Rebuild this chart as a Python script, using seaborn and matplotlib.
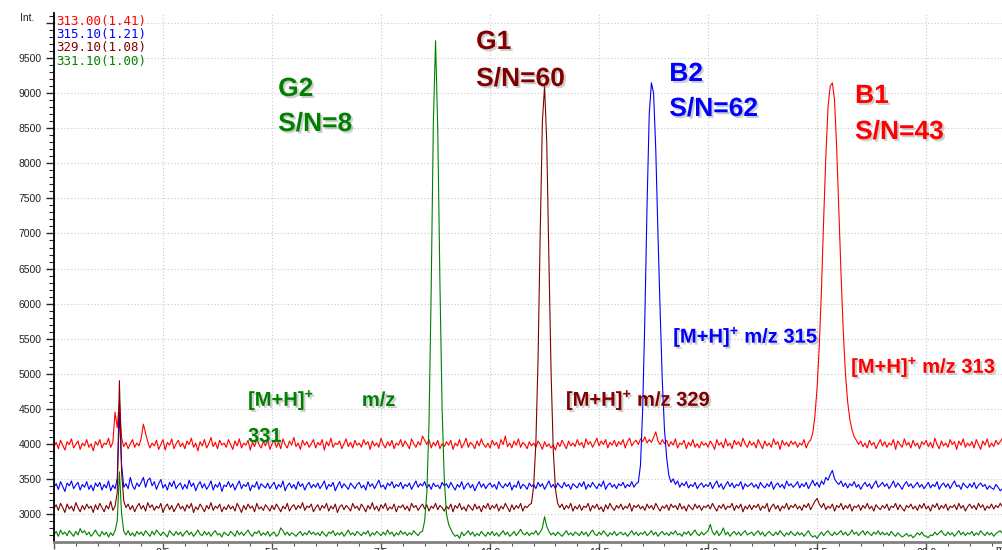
import matplotlib
matplotlib.use("Agg")
import matplotlib.pyplot as plt
import matplotlib.patheffects as pe
from matplotlib.ticker import MultipleLocator
import seaborn as sns
import pandas as pd
import numpy as np

# scan interval (min)
step = 0.05

traces = ["313.00(1.41)", "315.10(1.21)", "329.10(1.08)", "331.10(1.00)"]
colors = ["#ff0000", "#0000ff", "#800000", "#008000"]

# intensities, one row per minute
i313 = [
    3960, 4020, 3930, 4050, 3980, 3910, 4030, 3990, 4070, 3940, 3990, 4040, 3920, 4010, 3970, 4060, 3950, 4000, 3900, 4030,
    3980, 4060, 3940, 4010, 3990, 4080, 3950, 4020, 4450, 4230, 4620, 4080, 3960, 4020, 3930, 4000, 4060, 3950, 4010, 3970,
    4080, 4280, 4150, 4030, 3940, 4010, 3970, 4050, 3920, 3990, 4060, 3910, 4020, 3980, 4070, 3930, 4000, 4050, 3960, 4010,
    3930, 4040, 3990, 4080, 3950, 4010, 3900, 4030, 3970, 4060, 3940, 4000, 4090, 3960, 4020, 3930, 4050, 3980, 4010, 3950,
    4060, 3990, 3920, 4040, 3970, 4070, 3940, 4010, 3980, 4050, 3910, 4020, 3960, 4080, 3990, 3940, 4030, 3970, 4060, 3920,
    4000, 4050, 3950, 4020, 3930, 4070, 3990, 3940, 4040, 3980, 4090, 3960, 4010, 3920, 4050, 3980, 4030, 3950, 4000, 4060,
    3940, 4020, 3980, 4060, 3910, 4030, 3970, 4080, 3950, 4010, 3990, 4040, 3930, 4000, 4070, 3960, 4020, 3940, 4050, 3980,
    4010, 3950, 4060, 3990, 4030, 3920, 4040, 3970, 4010, 3950, 4080, 3990, 3940, 4030, 3970, 4050, 3930, 4010, 3980, 4060,
    3960, 4040, 3990, 3930, 4070, 4000, 3950, 4030, 3980, 4110, 4050, 3990, 4060, 3940, 4020, 3970, 4050, 3930, 4000, 3960,
    4030, 3980, 4050, 3920, 4010, 3970, 4060, 3940, 4000, 4080, 3950, 4020, 3990, 3930, 4040, 3970, 4070, 3990, 3950, 4010,
    3940, 4050, 3980, 4020, 3930, 4060, 3990, 4110, 3960, 4010, 3940, 4040, 3980, 4070, 3950, 4020, 3990, 3930, 4030, 3970,
    4010, 3950, 4040, 3990, 3920, 4030, 3960, 4000, 3940, 3980, 3910, 4020, 3960, 4050, 3990, 3930, 4040, 3970, 4010, 3960,
    4060, 3980, 4020, 3940, 4070, 3990, 4030, 3950, 4010, 4080, 3970, 4040, 3990, 4060, 3940, 4020, 3980, 4050, 3960, 4030,
    3990, 4060, 3940, 4030, 4080, 3970, 4020, 4050, 3990, 4070, 4030, 4100, 4010, 4060, 4020, 4090, 4170, 4040, 3990, 4060,
    4000, 4050, 3960, 4030, 3980, 4070, 3940, 4010, 3990, 4050, 3930, 4020, 3970, 4060, 3950, 4000, 3940, 4030, 3980, 4010,
    3950, 4040, 3990, 3920, 4060, 3980, 4020, 3940, 4070, 3970, 4010, 3930, 4050, 3990, 4030, 3960, 4080, 4000, 3950, 4040,
    3980, 4020, 3940, 4060, 3990, 3930, 4040, 3970, 4010, 3950, 4070, 3990, 4030, 3920, 4050, 3980, 4020, 3960, 4040, 3990,
    4030, 3950, 4010, 3980, 4060, 3940, 4020, 4050, 4150, 4400, 4800, 5400, 6200, 7200, 8100, 8800, 9100, 9150, 8900, 8200,
    7300, 6400, 5600, 5000, 4600, 4350, 4200, 4100, 4050, 3990, 4040, 3960, 4010, 3940, 4050, 3980, 4020, 3930, 4000, 4060,
    3970, 4030, 3950, 4010, 3980, 4060, 3920, 4040, 3990, 3950, 4070, 3980, 4020, 3940, 4050, 3970, 4010, 3930, 4030, 3990,
    4050, 3960, 4020, 3940, 4080, 3990, 3930, 4040, 3970, 4010, 3950, 4060, 3990, 4030, 3920, 4040, 3980, 4070, 3950, 4010,
    3970, 4030, 3940, 4060, 3990, 3920, 4040, 3980, 4070, 3950, 4010, 3960, 4050, 3990, 4030, 4080,
]
i315 = [
    3380, 3430, 3350, 3460, 3390, 3320, 3440, 3400, 3470, 3360, 3410, 3450, 3340, 3420, 3380, 3460, 3350, 3410, 3330, 3440,
    3390, 3450, 3340, 3420, 3370, 3470, 3330, 3410, 3360, 3500, 4450, 3700, 3380, 3430, 3360, 3520, 3400, 3350, 3440, 3390,
    3450, 3520, 3380, 3480, 3510, 3400, 3460, 3350, 3430, 3490, 3370, 3420, 3340, 3450, 3390, 3470, 3360, 3410, 3440, 3350,
    3420, 3360, 3480, 3390, 3440, 3330, 3410, 3460, 3370, 3430, 3350, 3400, 3470, 3340, 3420, 3380, 3450, 3320, 3410, 3390,
    3460, 3380, 3430, 3340, 3410, 3470, 3360, 3420, 3390, 3450, 3330, 3410, 3380, 3460, 3350, 3430, 3400, 3370, 3440, 3360,
    3410, 3450, 3350, 3420, 3380, 3470, 3330, 3400, 3440, 3370, 3420, 3350, 3460, 3390, 3430, 3340, 3410, 3450, 3370, 3420,
    3380, 3440, 3360, 3410, 3470, 3350, 3420, 3390, 3450, 3330, 3400, 3460, 3370, 3430, 3390, 3350, 3440, 3400, 3360, 3420,
    3450, 3370, 3410, 3340, 3460, 3390, 3430, 3360, 3420, 3480, 3380, 3410, 3350, 3440, 3400, 3460, 3370, 3420, 3390, 3450,
    3360, 3420, 3390, 3440, 3350, 3410, 3470, 3380, 3430, 3400, 3460, 3370, 3420, 3350, 3440, 3390, 3410, 3360, 3450, 3400,
    3430, 3370, 3450, 3390, 3340, 3420, 3380, 3460, 3350, 3410, 3440, 3370, 3420, 3330, 3400, 3460, 3380, 3430, 3360, 3410,
    3440, 3380, 3420, 3350, 3460, 3400, 3370, 3430, 3390, 3450, 3340, 3410, 3380, 3470, 3360, 3420, 3400, 3350, 3440, 3390,
    3420, 3360, 3450, 3390, 3430, 3350, 3410, 3470, 3380, 3420, 3360, 3440, 3400, 3370, 3450, 3390, 3420, 3350, 3430, 3400,
    3370, 3440, 3390, 3460, 3350, 3420, 3380, 3450, 3400, 3360, 3430, 3390, 3470, 3350, 3410, 3440, 3380, 3420, 3360, 3430,
    3400, 3450, 3370, 3420, 3390, 3460, 3380, 3430, 3450, 3700, 4500, 5800, 7400, 8700, 9150, 9000, 8200, 7000, 5900, 4900,
    4200, 3800, 3550, 3450, 3500, 3420, 3470, 3380, 3440, 3400, 3460, 3370, 3420, 3390, 3450, 3360, 3410, 3440, 3380, 3420,
    3390, 3450, 3360, 3420, 3470, 3380, 3430, 3350, 3410, 3460, 3390, 3440, 3370, 3420, 3400, 3460, 3350, 3430, 3390, 3410,
    3440, 3380, 3420, 3360, 3450, 3400, 3370, 3430, 3390, 3460, 3350, 3410, 3440, 3380, 3420, 3360, 3470, 3400, 3430, 3380,
    3410, 3460, 3370, 3430, 3390, 3450, 3360, 3420, 3480, 3400, 3450, 3380, 3470, 3420, 3520, 3480, 3560, 3620, 3500, 3450,
    3420, 3470, 3390, 3440, 3370, 3430, 3400, 3460, 3380, 3420, 3350, 3410, 3450, 3390, 3430, 3360, 3420, 3470, 3380, 3410,
    3450, 3390, 3430, 3360, 3410, 3470, 3380, 3440, 3400, 3350, 3420, 3460, 3390, 3430, 3370, 3410, 3450, 3380, 3420, 3360,
    3400, 3450, 3370, 3420, 3390, 3460, 3350, 3410, 3440, 3380, 3430, 3360, 3420, 3470, 3390, 3410, 3350, 3440, 3400, 3370,
    3430, 3380, 3450, 3360, 3410, 3440, 3390, 3420, 3350, 3400, 3370, 3350, 3420, 3380, 3330, 3360,
]
i329 = [
    3080, 3130, 3050, 3150, 3090, 3020, 3140, 3070, 3110, 3040, 3160, 3090, 3030, 3120, 3060, 3140, 3080, 3110, 3020, 3130,
    3060, 3150, 3090, 3030, 3120, 3070, 3180, 3050, 3110, 3300, 4900, 3600, 3180, 3090, 3140, 3060, 3120, 3030, 3100, 3150,
    3070, 3120, 3040, 3160, 3090, 3130, 3050, 3110, 3080, 3150, 3020, 3100, 3140, 3060, 3120, 3030, 3090, 3150, 3070, 3110,
    3040, 3130, 3080, 3150, 3020, 3100, 3060, 3140, 3090, 3030, 3120, 3070, 3160, 3050, 3110, 3080, 3140, 3030, 3100, 3060,
    3130, 3070, 3110, 3040, 3150, 3090, 3020, 3120, 3060, 3140, 3080, 3110, 3030, 3150, 3070, 3100, 3050, 3130, 3090, 3040,
    3120, 3060, 3140, 3090, 3030, 3110, 3070, 3150, 3040, 3100, 3130, 3060, 3120, 3080, 3160, 3050, 3110, 3090, 3140, 3030,
    3090, 3130, 3050, 3120, 3080, 3150, 3040, 3110, 3070, 3140, 3020, 3100, 3130, 3060, 3120, 3090, 3040, 3150, 3080, 3110,
    3050, 3140, 3090, 3030, 3120, 3070, 3160, 3060, 3110, 3040, 3130, 3080, 3150, 3050, 3100, 3070, 3140, 3030, 3110, 3090,
    3130, 3060, 3110, 3040, 3150, 3090, 3120, 3050, 3100, 3140, 3070, 3130, 3040, 3110, 3080, 3150, 3060, 3120, 3090, 3040,
    3110, 3070, 3140, 3030, 3120, 3080, 3150, 3060, 3100, 3040, 3130, 3090, 3050, 3140, 3070, 3110, 3030, 3120, 3080, 3150,
    3060, 3120, 3080, 3140, 3040, 3110, 3070, 3150, 3090, 3030, 3130, 3060, 3120, 3080, 3150, 3040, 3110, 3090, 3130, 3150,
    3400, 4000, 5200, 7000, 8600, 9100, 8300, 6600, 5000, 3900, 3350, 3150, 3090, 3140, 3060, 3120, 3080, 3150, 3040, 3110,
    3070, 3130, 3050, 3110, 3090, 3150, 3040, 3120, 3080, 3140, 3060, 3100, 3030, 3130, 3070, 3150, 3090, 3050, 3120, 3080,
    3140, 3060, 3110, 3080, 3150, 3040, 3120, 3090, 3130, 3070, 3110, 3050, 3140, 3080, 3120, 3060, 3150, 3090, 3040, 3110,
    3080, 3130, 3050, 3140, 3090, 3120, 3060, 3150, 3070, 3110, 3040, 3130, 3090, 3060, 3140, 3080, 3120, 3050, 3110, 3090,
    3130, 3070, 3150, 3090, 3040, 3120, 3080, 3140, 3060, 3110, 3090, 3150, 3050, 3120, 3080, 3140, 3030, 3110, 3070, 3130,
    3060, 3120, 3090, 3140, 3050, 3110, 3080, 3150, 3030, 3100, 3140, 3070, 3120, 3040, 3110, 3080, 3150, 3060, 3120, 3090,
    3140, 3070, 3110, 3050, 3130, 3090, 3150, 3060, 3120, 3180, 3220, 3140, 3090, 3150, 3060, 3110, 3080, 3140, 3040, 3120,
    3090, 3150, 3060, 3120, 3080, 3140, 3040, 3110, 3090, 3130, 3050, 3120, 3080, 3150, 3070, 3110, 3040, 3130, 3090, 3060,
    3120, 3080, 3140, 3050, 3110, 3090, 3150, 3060, 3130, 3080, 3040, 3120, 3090, 3140, 3070, 3110, 3050, 3130, 3080, 3150,
    3070, 3110, 3040, 3130, 3090, 3150, 3060, 3120, 3080, 3140, 3050, 3110, 3090, 3130, 3060, 3150, 3080, 3120, 3040, 3100,
    3140, 3080, 3120, 3060, 3150, 3090, 3130, 3050, 3110, 3080, 3140, 3070, 3120, 3090, 3150, 3100,
]
i331 = [
    2700, 2750, 2680, 2770, 2710, 2740, 2690, 2760, 2720, 2680, 2750, 2700, 2790, 2730, 2760, 2700, 2740, 2680, 2720, 2770,
    2710, 2680, 2750, 2700, 2740, 2670, 2730, 2690, 2760, 2900, 3600, 3000, 2750, 2700, 2760, 2690, 2730, 2680, 2750, 2710,
    2740, 2690, 2760, 2720, 2680, 2750, 2700, 2770, 2730, 2690, 2740, 2710, 2670, 2760, 2720, 2690, 2750, 2700, 2740, 2680,
    2730, 2760, 2700, 2740, 2680, 2720, 2770, 2710, 2690, 2750, 2700, 2740, 2680, 2730, 2760, 2700, 2720, 2670, 2740, 2710,
    2690, 2750, 2720, 2680, 2760, 2700, 2740, 2690, 2730, 2770, 2710, 2680, 2740, 2720, 2760, 2690, 2730, 2700, 2750, 2680,
    2720, 2740, 2680, 2710, 2800, 2760, 2700, 2740, 2690, 2730, 2710, 2680, 2720, 2750, 2690, 2730, 2700, 2760, 2710, 2740,
    2700, 2730, 2690, 2750, 2710, 2680, 2740, 2720, 2760, 2690, 2730, 2700, 2740, 2680, 2720, 2770, 2700, 2730, 2690, 2750,
    2720, 2690, 2740, 2710, 2760, 2680, 2730, 2700, 2750, 2720, 2690, 2740, 2700, 2770, 2710, 2740, 2680, 2730, 2700, 2760,
    2710, 2740, 2690, 2730, 2700, 2760, 2720, 2690, 2740, 2750, 2900, 3300, 4300, 6200, 8600, 9750, 8500, 6300, 4500, 3500,
    3000, 2850, 2780, 2720, 2680, 2700, 2650, 2740, 2690, 2720, 2760, 2700, 2740, 2680, 2720, 2690, 2750, 2710, 2680, 2740,
    2700, 2750, 2690, 2730, 2680, 2720, 2760, 2700, 2740, 2680, 2710, 2750, 2690, 2730, 2780, 2720, 2700, 2740, 2690, 2730,
    2710, 2760, 2700, 2740, 2800, 2960, 2820, 2750, 2700, 2730, 2690, 2740, 2710, 2680, 2720, 2760, 2700, 2730, 2690, 2740,
    2720, 2690, 2750, 2700, 2740, 2680, 2730, 2770, 2710, 2690, 2740, 2700, 2760, 2720, 2680, 2730, 2700, 2750, 2690, 2720,
    2740, 2700, 2730, 2680, 2720, 2760, 2700, 2740, 2690, 2730, 2710, 2750, 2690, 2720, 2760, 2700, 2740, 2680, 2720, 2750,
    2700, 2730, 2690, 2740, 2710, 2760, 2700, 2720, 2680, 2740, 2710, 2750, 2690, 2730, 2770, 2710, 2690, 2740, 2700, 2730,
    2760, 2850, 2740, 2700, 2760, 2690, 2730, 2800, 2700, 2740, 2680, 2720, 2750, 2700, 2740, 2690, 2730, 2760, 2700, 2720,
    2740, 2690, 2730, 2760, 2700, 2740, 2680, 2720, 2750, 2710, 2690, 2740, 2700, 2760, 2720, 2680, 2730, 2700, 2750, 2710,
    2690, 2740, 2700, 2730, 2680, 2720, 2760, 2700, 2670, 2690, 2650, 2700, 2740, 2690, 2730, 2760, 2710, 2690, 2740, 2700,
    2730, 2760, 2700, 2740, 2690, 2720, 2770, 2710, 2740, 2690, 2730, 2760, 2700, 2750, 2720, 2690, 2740, 2710, 2760, 2700,
    2740, 2700, 2730, 2690, 2750, 2710, 2680, 2730, 2700, 2670, 2690, 2720, 2680, 2700, 2660, 2690, 2730, 2700, 2740, 2690,
    2680, 2660, 2700, 2690, 2740, 2700, 2730, 2760, 2710, 2690, 2740, 2700, 2730, 2680, 2720, 2760, 2700, 2740, 2690, 2730,
    2710, 2750, 2690, 2730, 2700, 2760, 2720, 2690, 2740, 2700, 2730, 2680, 2720, 2740, 2760, 2720,
]

# peak labels
peak_names = ["G2", "G1", "B2", "B1"]
peak_sn = ["S/N=8", "S/N=60", "S/N=62", "S/N=43"]
peak_colors = ["#008000", "#800000", "#0000ff", "#ff0000"]

series = [i313, i315, i329, i331]
frames = []
for name, vals in zip(traces, series):
    assert len(vals) == 436, (name, len(vals))
    frames.append(pd.DataFrame({"rt": np.arange(len(vals)) * step,
                                "intensity": vals, "trace": name}))
df = pd.concat(frames, ignore_index=True)

sns.set_style("white")
plt.rcParams["font.family"] = ["Liberation Sans", "DejaVu Sans"]
plt.rcParams["mathtext.fontset"] = "custom"
plt.rcParams["mathtext.rm"] = "Liberation Sans:bold"
plt.rcParams["mathtext.bf"] = "Liberation Sans:bold"
plt.rcParams["mathtext.default"] = "rm"

W, H = 1002, 550
fig = plt.figure(figsize=(W / 100, H / 100), dpi=100)
ax = fig.add_axes([54 / W, 8.5 / H, 1 - 54 / W, (541.5 - 13.3) / H])

sns.lineplot(data=df, x="rt", y="intensity", hue="trace", hue_order=traces,
             palette=colors, estimator=None, linewidth=0.8, legend=False, ax=ax)

ax.set_xlim(0, 21.74)
ax.set_ylim(2606, 10141)
ax.set_xlabel("")
ax.set_ylabel("")

ax.xaxis.set_major_locator(MultipleLocator(2.5))
ax.xaxis.set_minor_locator(MultipleLocator(0.5))
ax.yaxis.set_major_locator(MultipleLocator(500))
ax.yaxis.set_minor_locator(MultipleLocator(100))
ax.xaxis.set_major_formatter(lambda v, p: "" if v < 1 else f"{v:.1f}")
ax.yaxis.set_major_formatter(lambda v, p: "" if v >= 10000 else f"{v:.0f}")

ax.grid(True, which="major", color="#c8c8c8", linestyle=(0, (1, 2)), linewidth=0.8)
for s in ["top", "right"]:
    ax.spines[s].set_visible(False)
ax.spines["left"].set_color("black")
ax.spines["left"].set_linewidth(1.3)
ax.spines["bottom"].set_color("#808080")
ax.spines["bottom"].set_linewidth(2)

ax.tick_params(axis="y", which="major", direction="out", length=6, width=1,
               pad=3, labelsize=7.5, labelcolor="#222222", left=True)
ax.tick_params(axis="y", which="minor", direction="out", length=3.5, width=0.8, left=True)
ax.tick_params(axis="x", which="major", direction="out", length=5, width=1,
               pad=0, labelsize=7.5, labelcolor="#222222", color="#555555", bottom=True)
ax.tick_params(axis="x", which="minor", direction="out", length=3, width=0.8,
               color="#555555", bottom=True)

# trace legend (top-left)
for k, (name, c) in enumerate(zip(traces, colors)):
    fig.text(56 / W, 1 - (21 + 13.5 * k) / H, name, color=c, fontsize=9,
             family="DejaVu Sans Mono", va="center", ha="left")
fig.text(20 / W, 1 - 18 / H, "Int.", fontsize=7.5, color="#222222", va="center")
fig.text(995 / W, 1 - 545 / H, "min", fontsize=7.5, color="#222222", va="top")

shadow = [pe.withSimplePatchShadow(offset=(1.5, -1.5), shadow_rgbFace="#777777", alpha=0.35)]

# peak names / S/N
name_pos = [(5.14, 8961, 8462), (9.68, 9632, 9104), (14.11, 9175, 8676), (18.37, 8862, 8348)]
for nm, sn, c, (x, y1, y2) in zip(peak_names, peak_sn, peak_colors, name_pos):
    ax.text(x, y1, nm, color=c, fontsize=19, fontweight="bold", va="baseline",
            ha="left", path_effects=shadow)
    ax.text(x, y2, sn, color=c, fontsize=19, fontweight="bold", va="baseline",
            ha="left", path_effects=shadow)

ion = r"[M+H]$^{+}$"
mz_kw = dict(fontsize=14.5, fontweight="bold", va="baseline", ha="left", path_effects=shadow)
ax.text(4.45, 4539, ion, color="#008000", **mz_kw)
ax.text(7.06, 4539, "m/z", color="#008000", **mz_kw)
ax.text(4.45, 4026, "331", color="#008000", **mz_kw)
ax.text(11.74, 4539, ion + " m/z 329", color="#800000", **mz_kw)
ax.text(14.2, 5440, ion + " m/z 315", color="#0000ff", **mz_kw)
ax.text(18.28, 5010, ion + " m/z 313", color="#ff0000", **mz_kw)

fig.savefig("out.png", dpi=100)
